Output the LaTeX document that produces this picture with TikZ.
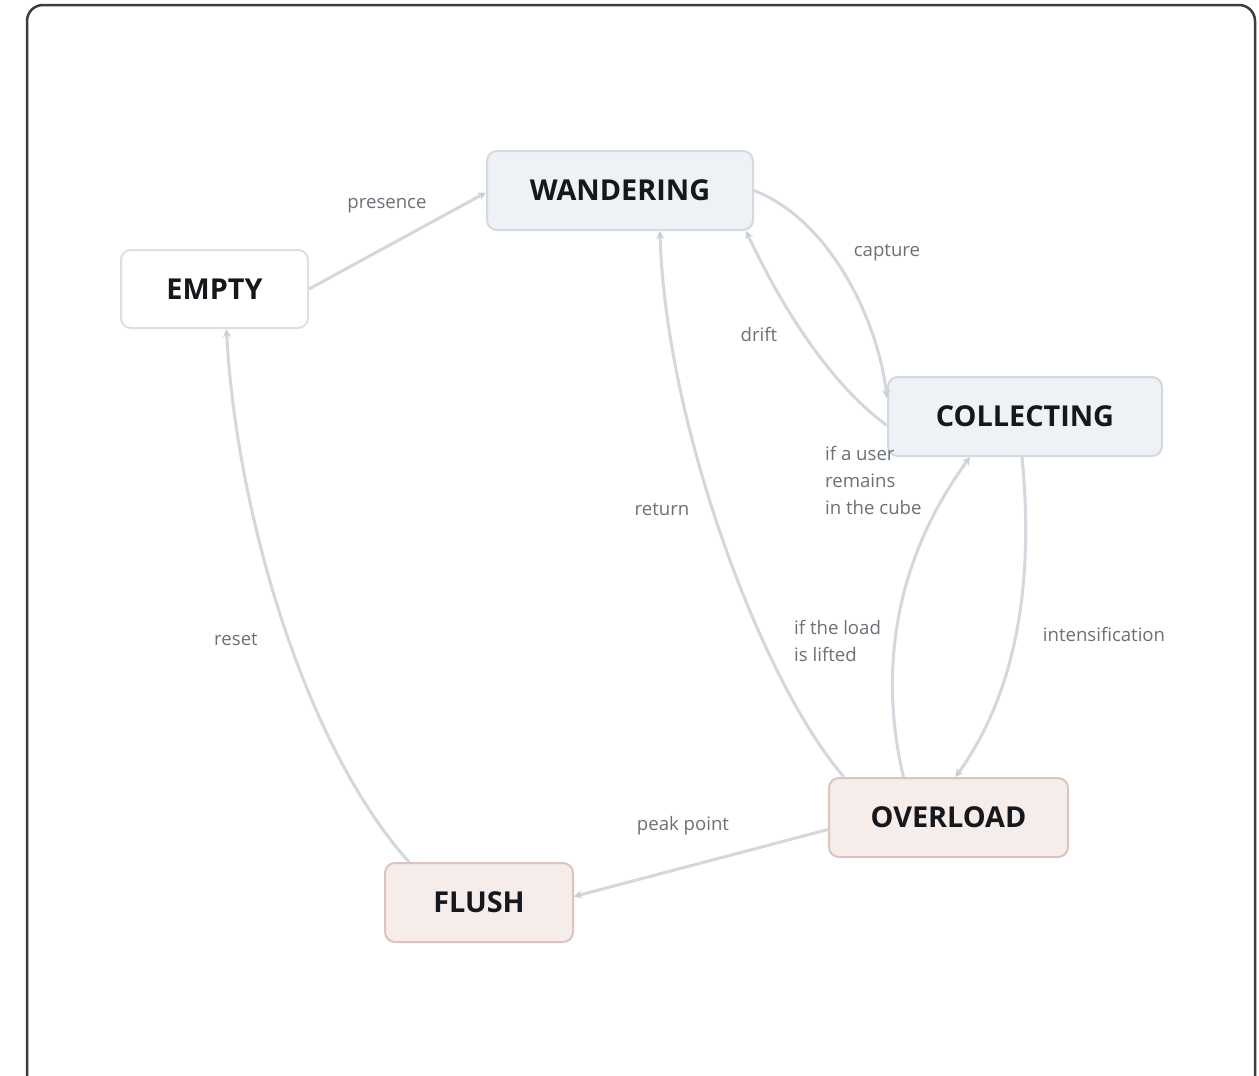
\documentclass[tikz,border=0pt]{standalone}
\usepackage{fontspec}
\setmainfont{Open Sans}
\usetikzlibrary{arrows.meta,calc}
\definecolor{edgec}{HTML}{D3D7DE}
\definecolor{tipc}{HTML}{C9CED6}
\definecolor{labc}{HTML}{6C7077}
\definecolor{txtc}{HTML}{15171C}
\definecolor{framec}{HTML}{3A3D44}
\definecolor{bluefill}{HTML}{EEF2F6}
\definecolor{blueline}{HTML}{D3D9E1}
\definecolor{redfill}{HTML}{F6ECE9}
\definecolor{redline}{HTML}{DCC4BE}
\definecolor{whiteline}{HTML}{DCDFE5}
\tikzset{
  state/.style={draw, rounded corners=10pt, line width=2pt, inner sep=0pt,
    font=\fontsize{28.8}{32}\selectfont\bfseries, text=txtc},
  plain/.style={state, fill=white, draw=whiteline},
  blue/.style={state, fill=bluefill, draw=blueline},
  warm/.style={state, fill=redfill, draw=redline},
  conn/.style={draw=edgec, line width=3pt, -{Stealth[length=8pt,width=8pt,color=tipc]}},
  lab/.style={text=labc, font=\fontsize{18.6}{27}\selectfont, inner sep=0pt, align=left}
}
\begin{document}
\begin{tikzpicture}[x=1pt,y=-1pt]
\useasboundingbox (0,0) rectangle (1259,1076);
\clip (0,0) rectangle (1259,1076);
\fill[white] (0,0) rectangle (1259,1076);
\draw[framec, line width=2.5pt, rounded corners=16pt] (27,5) rectangle (1255,1110);

\node[plain, minimum width=187pt, minimum height=78pt] (emp) at (214.5,289) {EMPTY};
\node[blue, minimum width=266pt, minimum height=79pt] (wan) at (620,190.5) {WANDERING};
\node[blue, minimum width=274pt, minimum height=79pt] (col) at (1025,416.5) {COLLECTING};
\node[warm, minimum width=239pt, minimum height=79pt] (ovl) at (948.5,817.5) {OVERLOAD};
\node[warm, minimum width=188pt, minimum height=79pt] (fl) at (479,902.5) {FLUSH};

% presence
\draw[conn] (emp.east) -- ([yshift=-2pt]wan.west);
% capture
\draw[conn] (wan.east) .. controls (830,220) and (878,320) .. ([yshift=-22pt]col.north west);
% drift
\draw[conn] ([yshift=-9pt]col.west) .. controls (845,395) and (795,335) .. ([xshift=-8pt]wan.south east);
% return
\draw[conn] ([xshift=16pt]ovl.north west) .. controls (760,680) and (665,420) .. ([xshift=40pt]wan.south);
% if a user remains
\draw[conn] ([xshift=-45pt]ovl.north) .. controls (885,700) and (880,580) .. ([xshift=-55pt]col.south);
% intensification
\draw[conn] ([xshift=-3pt]col.south) .. controls (1032,560) and (1025,680) .. ([xshift=7pt]ovl.north);
% peak point
\draw[conn] ([yshift=-12pt]ovl.west) -- ([yshift=6pt]fl.east);
% reset
\draw[conn] ([xshift=25pt]fl.north west) .. controls (300,740) and (235,500) .. ([xshift=12pt]emp.south);

\node[lab] (l1) at (387,206) {presence};
\node[lab] (l2) at (887,253) {capture};
\node[lab] (l3) at (759,334) {drift};
\node[lab, anchor=west] (l4) at (825,480) {if a user\\remains\\in the cube};
\node[lab] (l5) at (662,509) {return};
\node[lab, anchor=west] (l6) at (794,640.5) {if the load\\is lifted};
\node[lab] (l7) at (1104,634) {intensification};
\node[lab] (l8) at (236,639) {reset};
\node[lab] (l9) at (683,826) {peak point};
\end{tikzpicture}
\end{document}
